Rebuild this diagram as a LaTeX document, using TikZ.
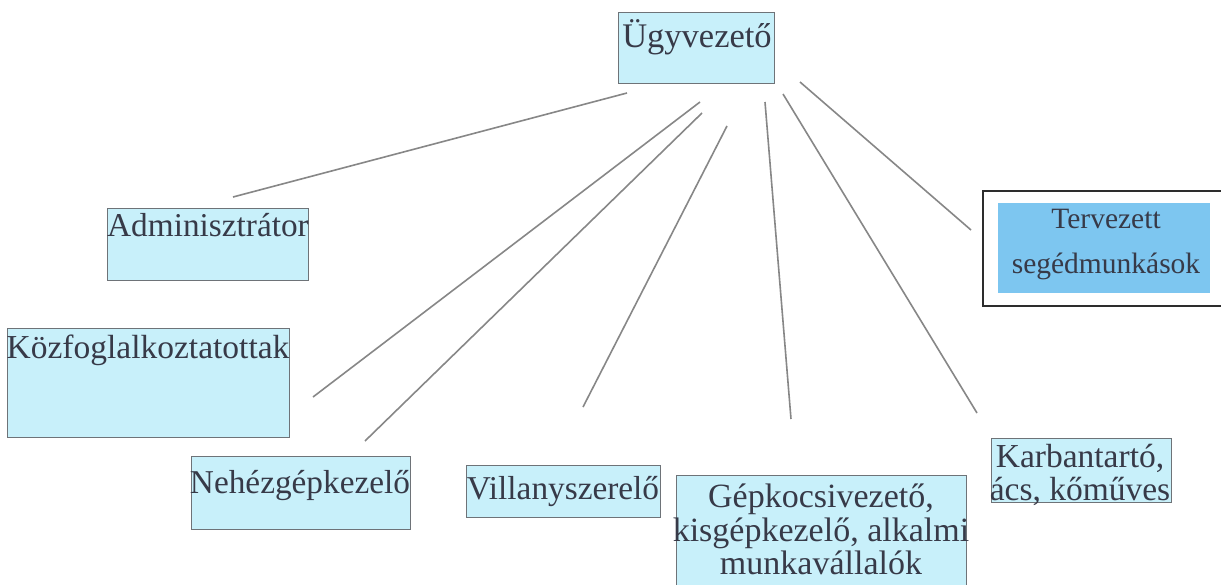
\documentclass[tikz,border=0pt]{standalone}
\usepackage{fontspec}
\setmainfont{Liberation Serif}
\definecolor{boxfill}{RGB}{200,240,250}
\definecolor{boxline}{RGB}{110,115,120}
\definecolor{txt}{RGB}{55,58,72}
\definecolor{plannedfill}{RGB}{125,198,240}
\definecolor{frameline}{RGB}{45,45,45}
\definecolor{conn}{RGB}{135,135,135}
\tikzset{
  box/.style={draw=boxline, line width=1.4pt, fill=boxfill, anchor=north west, inner sep=0pt},
  lbl/.style={text=txt, anchor=base, inner sep=0pt, align=center},
  conn/.style={draw=conn, line width=1.6pt},
}
\begin{document}
\begin{tikzpicture}[x=1pt,y=-1pt]
\useasboundingbox (0,0) rectangle (1221,584);
\clip (0,0) rectangle (1221,584);
\fill[white] (0,0) rectangle (1221,584);
% boxes
\node[box, minimum width=156pt, minimum height=71pt] (ugy) at (618,12) {};
\node[box, minimum width=201pt, minimum height=72pt] (adm) at (107,208) {};
\node[box, minimum width=282pt, minimum height=109pt] (koz) at (7,328) {};
\node[box, minimum width=219pt, minimum height=73pt] (neh) at (191,456) {};
\node[box, minimum width=194pt, minimum height=52pt] (vil) at (466,465) {};
\node[box, minimum width=290pt, minimum height=140pt] (gep) at (676,475) {};
\node[box, minimum width=180pt, minimum height=64pt] (kar) at (991,438) {};
\node[draw=frameline, line width=2pt, anchor=north west, minimum width=260pt, minimum height=115pt, inner sep=0pt] (terfr) at (982,190) {};
\node[fill=plannedfill, anchor=north west, minimum width=212pt, minimum height=90pt, inner sep=0pt] (ter) at (998,203) {};
% labels
\node[lbl, font=\fontsize{34.5}{40}\selectfont] (ugyt) at (697,47) {Ügyvezető};
\node[lbl, font=\fontsize{33.3}{40}\selectfont] (admt) at (208,236) {Adminisztrátor};
\node[lbl, font=\fontsize{33.5}{40}\selectfont] (kozt) at (148,358) {Közfoglalkoztatottak};
\node[lbl, font=\fontsize{33.3}{40}\selectfont] (neht) at (300,493) {Nehézgépkezelő};
\node[lbl, font=\fontsize{33.3}{40}\selectfont] (vilt) at (563,499) {Villanyszerelő};
\node[lbl, font=\fontsize{34}{44}\selectfont] (gept1) at (821,507) {Gépkocsivezető,};
\node[lbl, font=\fontsize{34}{44}\selectfont] (gept2) at (821,541) {kisgépkezelő, alkalmi};
\node[lbl, font=\fontsize{34}{44}\selectfont] (gept3) at (821,574) {munkavállalók};
\node[lbl, font=\fontsize{33.5}{33}\selectfont] (kart1) at (1080,467) {Karbantartó,};
\node[lbl, font=\fontsize{33.5}{33}\selectfont] (kart2) at (1080,500) {ács, kőműves};
\node[lbl, font=\fontsize{29.5}{45}\selectfont] (tert1) at (1106,228) {Tervezett};
\node[lbl, font=\fontsize{29.5}{45}\selectfont] (tert2) at (1106,273) {segédmunkások};
% connector end points
\coordinate (a1) at (627,93);  \coordinate (b1) at (233,197);
\coordinate (a2) at (700,102); \coordinate (b2) at (313,397);
\coordinate (a3) at (702,113); \coordinate (b3) at (365,441);
\coordinate (a4) at (727,126); \coordinate (b4) at (583,407);
\coordinate (a5) at (765,102); \coordinate (b5) at (791,419);
\coordinate (a6) at (783,94);  \coordinate (b6) at (977,413);
\coordinate (a7) at (800,82);  \coordinate (b7) at (971,230);
\foreach \i in {1,...,7} { \draw[conn] (a\i) -- (b\i); }
\end{tikzpicture}
\end{document}
